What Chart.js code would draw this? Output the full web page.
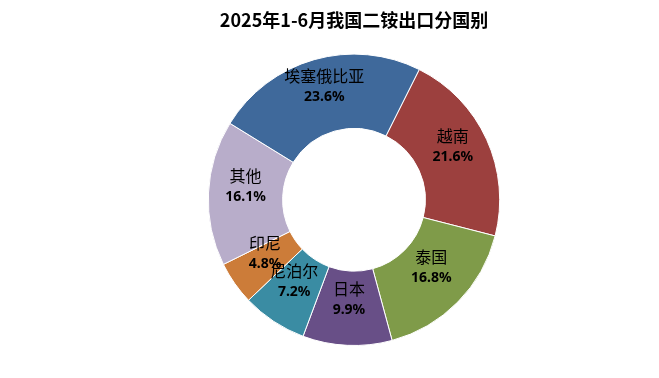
<!DOCTYPE html>
<html lang="zh">
<head>
  <meta charset="UTF-8" />
  <title>2025年1-6月我国二铵出口分国别</title>
  <script src="https://cdn.jsdelivr.net/npm/chart.js"></script>
  <style>
    html, body { margin: 0; padding: 0; background: #fff; }
    #wrap { width: 659px; height: 378px; }
  </style>
</head>
<body>
  <div id="wrap"><canvas id="chart"></canvas></div>
  <script>
    const countries = ['越南', '泰国', '日本', '尼泊尔', '印尼', '其他', '埃塞俄比亚'];
    const shares = [21.6, 16.8, 9.9, 7.2, 4.8, 16.1, 23.6];
    const colors = ['#9c403e', '#7f9b49', '#684f87', '#3a8ca3', '#cc7c39', '#b8adca', '#3f699b'];

    const sliceLabels = {
      id: 'sliceLabels',
      afterDatasetsDraw(chart) {
        const ctx = chart.ctx;
        const meta = chart.getDatasetMeta(0);
        ctx.save();
        ctx.fillStyle = '#000';
        ctx.textAlign = 'center';
        ctx.textBaseline = 'middle';
        meta.data.forEach((arc, i) => {
          const p = arc.tooltipPosition();
          const y = p.y - 9;
          ctx.font = '16px "Noto Sans CJK SC", sans-serif';
          ctx.fillText(countries[i], p.x, y - 10);
          ctx.font = 'bold 14px "Noto Sans", sans-serif';
          ctx.fillText(shares[i].toFixed(1) + '%', p.x, y + 11);
        });
        ctx.restore();
      }
    };

    new Chart(document.getElementById('chart'), {
      type: 'doughnut',
      data: {
        labels: countries,
        datasets: [{
          data: shares,
          backgroundColor: colors,
          borderColor: '#ffffff',
          borderWidth: 1
        }]
      },
      options: {
        responsive: true,
        maintainAspectRatio: false,
        animation: false,
        rotation: 26.6,
        cutout: '49%',
        layout: { padding: { left: 180, right: 131, top: 0, bottom: 32 } },
        plugins: {
          legend: { display: false },
          tooltip: { enabled: false },
          title: {
            display: true,
            text: '2025年1-6月我国二铵出口分国别',
            color: '#000',
            font: { family: '"Noto Sans CJK SC", sans-serif', size: 18, weight: 'bold' },
            padding: { top: 9, bottom: 23 }
          }
        }
      },
      plugins: [sliceLabels]
    });
  </script>
</body>
</html>
